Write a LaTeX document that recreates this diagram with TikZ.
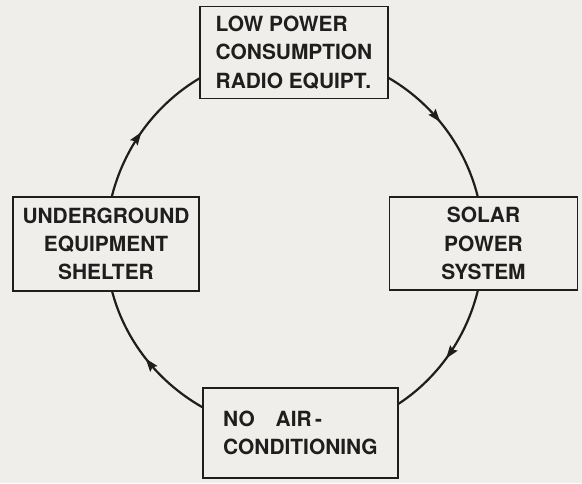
\documentclass[tikz,border=0pt]{standalone}
\usepackage{fontspec}
\setmainfont{TeX Gyre Heros}
\usetikzlibrary{arrows.meta, positioning, backgrounds, decorations.markings}
\definecolor{paper}{RGB}{239,238,234}
\definecolor{ink}{RGB}{30,30,30}
\tikzset{
  block/.style={
    rectangle, draw=ink, line width=1.5pt, fill=paper,
    minimum width=188pt, minimum height=92pt, inner sep=0pt,
    align=center, text=ink, font=\fontsize{20.9}{28.3}\selectfont\bfseries
  },
  cyclearc/.style={
    line width=2.2pt, draw=ink, postaction={decorate},
    decoration={markings,
      mark=at position #1 with {\arrow[ink]{Stealth[length=13pt,width=9pt,inset=2pt]}}}
  }
}
\begin{document}
\begin{tikzpicture}[x=1pt, y=1pt]
  \useasboundingbox (-295,-238) rectangle (287,245);
  \node[block, align=left] (radio) at (-1,192.5) {LOW POWER\\CONSUMPTION\\RADIO EQUIPT.};
  \node[block, minimum height=93pt] (solar) at (188.5,1.5) {SOLAR\\POWER\\SYSTEM};
  \node[block, minimum width=195pt, minimum height=90pt, align=left] (noac) at (5.5,-188) {NO\quad AIR\,-\\CONDITIONING};
  \node[block, minimum width=186pt, minimum height=94pt] (shelter) at (-189,1) {UNDERGROUND\\EQUIPMENT\\SHELTER};

  % the cycle runs behind the boxes
  \begin{scope}[on background layer]
    \fill[paper] (-295,-238) rectangle (287,245);
    \draw[cyclearc=0.4]  (shelter.center) to[out=90,in=180] (radio.center);
    \draw[cyclearc=0.56] (radio.center) to[out=0,in=90] (solar.center);
    \draw[cyclearc=0.42] (solar.center) to[out=-90,in=0] (noac.center);
    \draw[cyclearc=0.59] (noac.center) to[out=180,in=-90] (shelter.center);
  \end{scope}
\end{tikzpicture}
\end{document}
